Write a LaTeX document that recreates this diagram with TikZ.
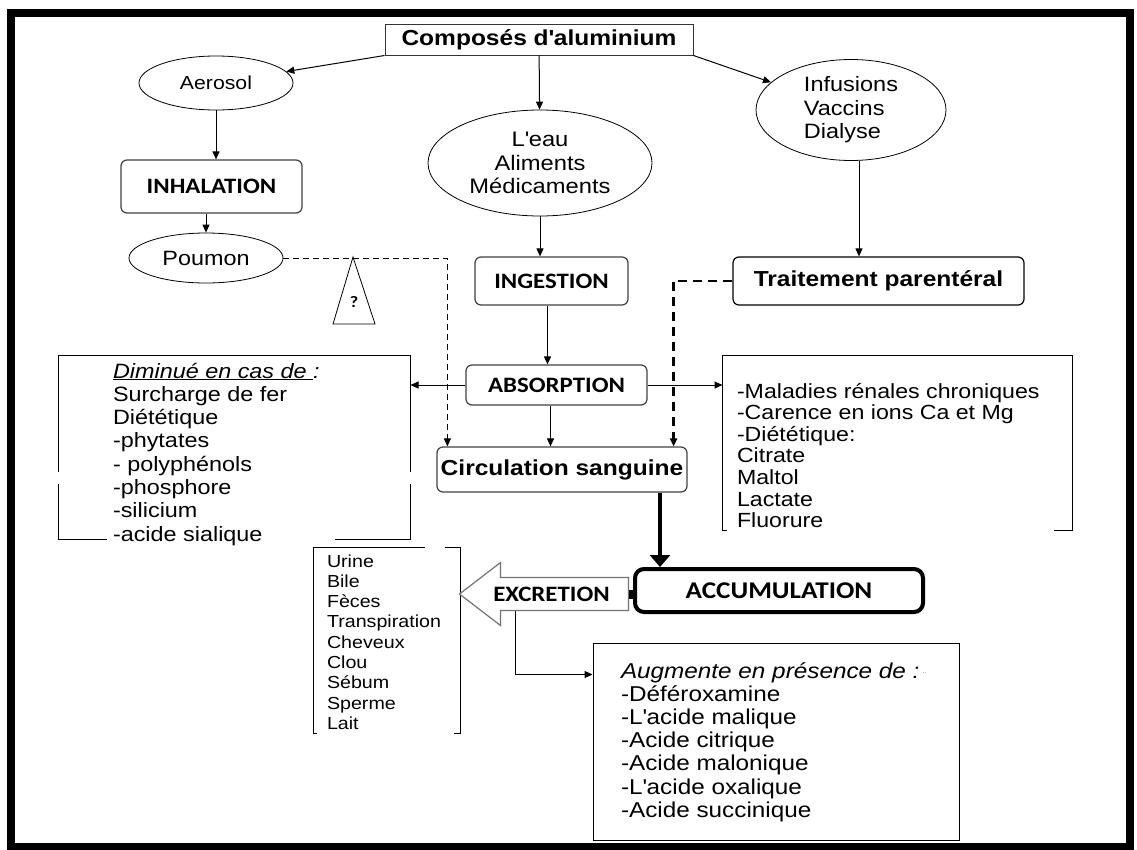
\documentclass[tikz,border=0pt]{standalone}
\usepackage{fontspec}
\setmainfont{Liberation Sans}[FakeStretch=1.13]
\newfontfamily\calib{Carlito}[FakeStretch=1.13]
\usetikzlibrary{arrows.meta,calc,shapes.geometric}
\newcommand\apos{\textquotesingle}

\begin{document}
\begin{tikzpicture}[x=1pt, y=-1pt, line width=1pt,
        >={Triangle[length=8pt,width=7pt]},
        oval/.style={ellipse, draw, line width=0.8pt, inner sep=0pt},
        rbox/.style={rectangle, rounded corners=6pt, draw=black!75, line width=1.2pt, inner sep=0pt,
                     font=\calib\bfseries\fontsize{22}{24}\selectfont},
        boldtxt/.style={font=\bfseries\fontsize{21.7}{24}\selectfont},
        lst/.style={anchor=base west, inner sep=0pt, font=\fontsize{20.5}{22}\selectfont},
        thindash/.style={dash pattern=on 6pt off 4pt, line width=1pt},
        thickdash/.style={dash pattern=on 9pt off 6pt, line width=2.6pt},
        heavy/.style={line width=4.5pt, -{Triangle[length=12pt,width=20pt]}}]
    \useasboundingbox (0,0) rectangle (1137,849);
    \draw[line width=8pt] (11,13) rectangle (1130,847);

    \node[rectangle, draw=black!80, minimum width=308pt, minimum height=31pt, boldtxt] (comp) at (539,39.5) {Composés d\apos{}aluminium};
    \node[oval, minimum width=154pt, minimum height=54pt, font=\fontsize{18.8}{20}\selectfont] (aero) at (216,83) {Aerosol};
    \node[oval, minimum width=224pt, minimum height=106pt, align=center, font=\fontsize{21}{23.5}\selectfont] (eau) at (540,163) {L\apos{}eau\\Aliments\\Médicaments};
    \node[oval, minimum width=190pt, minimum height=101pt, align=left, font=\fontsize{20.8}{23.5}\selectfont] (inf) at (851,110) {Infusions\\Vaccins\\Dialyse};
    \node[rbox, minimum width=181pt, minimum height=53pt] (inh) at (211.5,186.5) {INHALATION};
    \node[oval, minimum width=154pt, minimum height=50pt, font=\fontsize{20.7}{22}\selectfont] (pou) at (206,258) {Poumon};
    \node[rbox, minimum width=153pt, minimum height=48pt] (ing) at (551.5,281) {INGESTION};
    \node[rbox, draw=black, minimum width=291pt, minimum height=48pt, boldtxt] (trt) at (878.5,281) {Traitement parentéral};
    \node[rbox, minimum width=181pt, minimum height=40pt] (abs) at (556.5,385) {ABSORPTION};
    \node[rbox, minimum width=250pt, minimum height=45pt, boldtxt] (circ) at (562,469.5) {Circulation sanguine};
    \node[rbox, rounded corners=9pt, draw=black, line width=4pt, minimum width=288pt, minimum height=43pt,
          font=\calib\bfseries\fontsize{24}{26}\selectfont] (acc) at (779,590.5) {ACCUMULATION};
    \node[minimum width=168pt, minimum height=62pt, inner sep=0pt,
          font=\calib\bfseries\fontsize{22}{24}\selectfont] (excr) at (544,594) {\hspace*{15pt}EXCRETION};

    \node[font=\calib\bfseries\fontsize{16}{18}\selectfont, inner sep=0pt] (qm) at (354,302) {?};
    \draw[line width=0.8pt] (353,257) -- (333,324) -- (375,324) -- cycle;

    \node[minimum width=351pt, minimum height=183pt, inner sep=0pt] (dim) at (234.5,447.5) {};
    \node[minimum width=349pt, minimum height=174pt, inner sep=0pt] (mal) at (897.5,443) {};
    \node[minimum width=146pt, minimum height=185pt, inner sep=0pt] (uri) at (387,640.5) {};
    \node[draw, minimum width=366pt, minimum height=197pt, inner sep=0pt] (aug) at (776,741.5) {};

    \draw ($(dim.south west)+(48,0)$) -- (dim.south west) -- ($(dim.south west)+(0,-56)$)
          ($(dim.north west)+(0,116)$) -- (dim.north west) -- (dim.north east) -- ($(dim.north east)+(0,116)$)
          ($(dim.south east)+(0,-56)$) -- (dim.south east) -- ($(dim.south east)+(-76,0)$);
    \draw ($(mal.south west)+(4,0)$) -- (mal.south west) -- (mal.north west) -- (mal.north east)
          -- (mal.south east) -- ($(mal.south east)+(-19,0)$);
    \draw ($(uri.north west)+(111,0)$) -- (uri.north west) -- (uri.south west) -- ($(uri.south west)+(3,0)$)
          ($(uri.north east)+(-16,0)$) -- (uri.north east) -- (uri.south east) -- ($(uri.south east)+(-7,0)$);

    \node[lst, font=\itshape\fontsize{20.7}{22}\selectfont] (dimhead) at ($(dim.north west)+(54,22.5)$) {\underline{Diminué en cas de }:};
    \foreach \entry [count=\i] in {Surcharge de fer, Diététique, -phytates, - polyphénols, -phosphore, -silicium, -acide sialique}
        \node[lst, font=\fontsize{20.7}{22}\selectfont] (dim-\i) at ($(dim.north west)+(54,22.5+23.3*\i)$) {\entry};
    \foreach \entry [count=\i from 0] in {-Maladies rénales chroniques, -Carence en ions Ca et Mg, -Diététique:, Citrate, Maltol, Lactate, Fluorure}
        \node[lst] (mal-\i) at ($(mal.north west)+(14,42.5+21.6*\i)$) {\entry};
    \foreach \entry [count=\i from 0] in {Urine, Bile, Fèces, Transpiration, Cheveux, Clou, Sébum, Sperme, Lait}
        \node[lst, font=\fontsize{17.4}{19}\selectfont] (uri-\i) at ($(uri.north west)+(13,19.5+20.3*\i)$) {\entry};
    \node[lst, font=\itshape\fontsize{21.5}{23}\selectfont] (aughead) at ($(aug.north west)+(28,35.5)$) {Augmente en présence de :\,\raisebox{5pt}{\tiny .\,.}};
    \foreach \entry [count=\i] in {-Déféroxamine, -L\apos{}acide malique, -Acide citrique, -Acide malonique, -L\apos{}acide oxalique, -Acide succinique}
        \node[lst, font=\fontsize{21.5}{23}\selectfont] (aug-\i) at ($(aug.north west)+(28,35.5+23.2*\i)$) {\entry};

    \draw[draw=black!55, line width=1.2pt] (excr.west) -- ([xshift=41pt]excr.north west) -- ([xshift=41pt,yshift=-15pt]excr.north west)
          -- ([yshift=-15pt]excr.north east) -- ([yshift=15pt]excr.south east) -- ([xshift=41pt,yshift=15pt]excr.south west)
          -- ([xshift=41pt]excr.south west) -- cycle;

    \draw[->] (comp.south west) -- (aero);
    \draw[->] (comp) -- (eau);
    \draw[->] (comp.south east) -- (inf);
    \draw[->] (aero) -- (aero |- inh.north);
    \draw[->] (pou.north |- inh.south) -- (pou);
    \draw[->] (eau) -- (eau |- ing.north);
    \draw[->] ([xshift=8pt]inf.south) -- ([xshift=8pt]inf.south |- trt.north);
    \draw[->] ([xshift=-4pt]ing.south) -- ([xshift=-4pt]ing.south |- abs.north);
    \draw[->] (abs.west) -- (abs.west -| dim.east);
    \draw[->] (abs.east) -- (abs.east -| mal.west);
    \draw[->] ([xshift=-6pt]abs.south) -- ([xshift=-6pt]abs.south |- circ.north);
    \draw[thindash, ->] (pou.east) -| ([xshift=11pt]circ.north west);
    \draw[thickdash, ->] (trt.west) -| ([xshift=-14pt]circ.north east);
    \draw[heavy] ([xshift=98pt]circ.south) -- ([xshift=98pt]circ.south |- acc.north);
    \draw[line width=9pt] (excr.east) -- (excr.east -| acc.west);
    \draw[->] ([xshift=-29pt,yshift=15pt]excr.south) |- ([yshift=-32pt]aug.north west);
\end{tikzpicture}
\end{document}
